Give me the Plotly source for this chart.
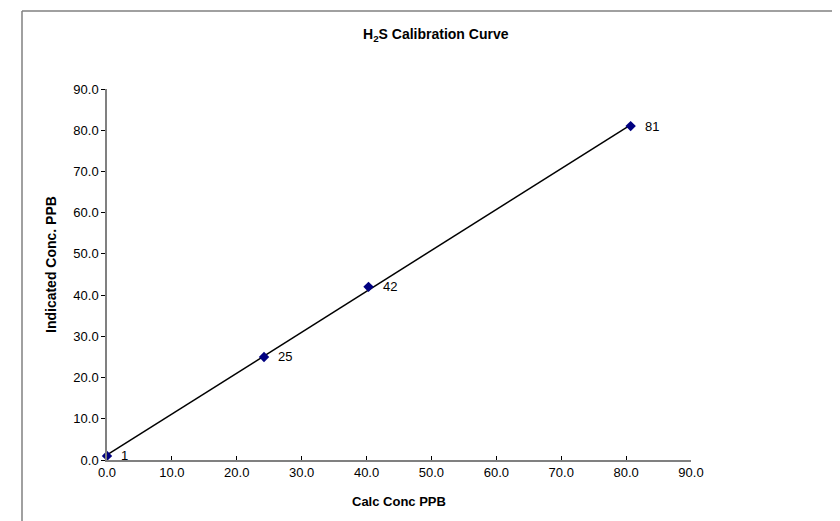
import numpy as np
import plotly.graph_objects as go

calc_conc = [0.0, 24.2, 40.3, 80.7]
indicated = [1, 25, 42, 81]
point_labels = ["1", "25", "42", "81"]
axis_ticks = [0, 10, 20, 30, 40, 50, 60, 70, 80, 90]

W, H = 840, 521
ML, MR, MT, MB = 99, 157, 81, 69
PW = W - ML - MR
PH = H - MT - MB
FONT = "Liberation Sans, Arial, sans-serif"

slope, intercept = np.polyfit(calc_conc, indicated, 1)
fit_x = [min(calc_conc), max(calc_conc)]
fit_y = [slope * v + intercept for v in fit_x]

fig = go.Figure()
fig.add_trace(go.Scatter(x=fit_x, y=fit_y, mode="lines",
                         line=dict(color="black", width=1.5),
                         hoverinfo="skip", showlegend=False, cliponaxis=False))
fig.add_trace(go.Scatter(x=calc_conc, y=indicated, mode="markers",
                         marker=dict(symbol="diamond", size=8, color="#000080"),
                         showlegend=False, cliponaxis=False))

for xv, yv, t in zip(calc_conc, indicated, point_labels):
    fig.add_annotation(x=xv, y=yv, text=t, showarrow=False, xanchor="left",
                       yanchor="middle", xshift=12,
                       font=dict(family=FONT, size=13, color="black"))

def px_x(p):
    return (p - ML) / PW

def px_y(p):
    return (H - MB - p) / PH

# chart-area frame (left and top edges visible)
fig.add_shape(type="line", xref="paper", yref="paper",
              x0=px_x(14), x1=px_x(14), y0=px_y(3), y1=px_y(530),
              line=dict(color="#808080", width=1.5))
fig.add_shape(type="line", xref="paper", yref="paper",
              x0=px_x(14), x1=px_x(850), y0=px_y(3), y1=px_y(3),
              line=dict(color="#808080", width=1.5))

fig.add_annotation(xref="paper", yref="paper", x=px_x(428), y=px_y(27),
                   text="<b>H<sub>2</sub>S Calibration Curve</b>", showarrow=False,
                   xanchor="center", yanchor="middle",
                   font=dict(family=FONT, size=14, color="black"))
fig.add_annotation(xref="paper", yref="paper", x=px_x(43), y=px_y(257),
                   text="<b>Indicated Conc. PPB</b>", showarrow=False, textangle=-90,
                   xanchor="center", yanchor="middle",
                   font=dict(family=FONT, size=14, color="black"))
fig.add_annotation(xref="paper", yref="paper", x=px_x(391), y=px_y(493),
                   text="<b>Calc Conc PPB</b>", showarrow=False,
                   xanchor="center", yanchor="middle",
                   font=dict(family=FONT, size=13, color="black"))

axis_common = dict(range=[0, 90], tickvals=axis_ticks, tickformat=".1f",
                   showgrid=False, zeroline=False, showline=True,
                   linecolor="#808080", linewidth=1.5, ticklen=4,
                   tickcolor="black", tickwidth=1,
                   tickfont=dict(family=FONT, size=13, color="black"))
fig.update_xaxes(**axis_common, ticks="inside")
fig.update_yaxes(**axis_common, ticks="outside")

fig.update_layout(width=W, height=H,
                  margin=dict(l=ML, r=MR, t=MT, b=MB, pad=0),
                  paper_bgcolor="white", plot_bgcolor="white",
                  showlegend=False)

fig.write_html("out.html")
